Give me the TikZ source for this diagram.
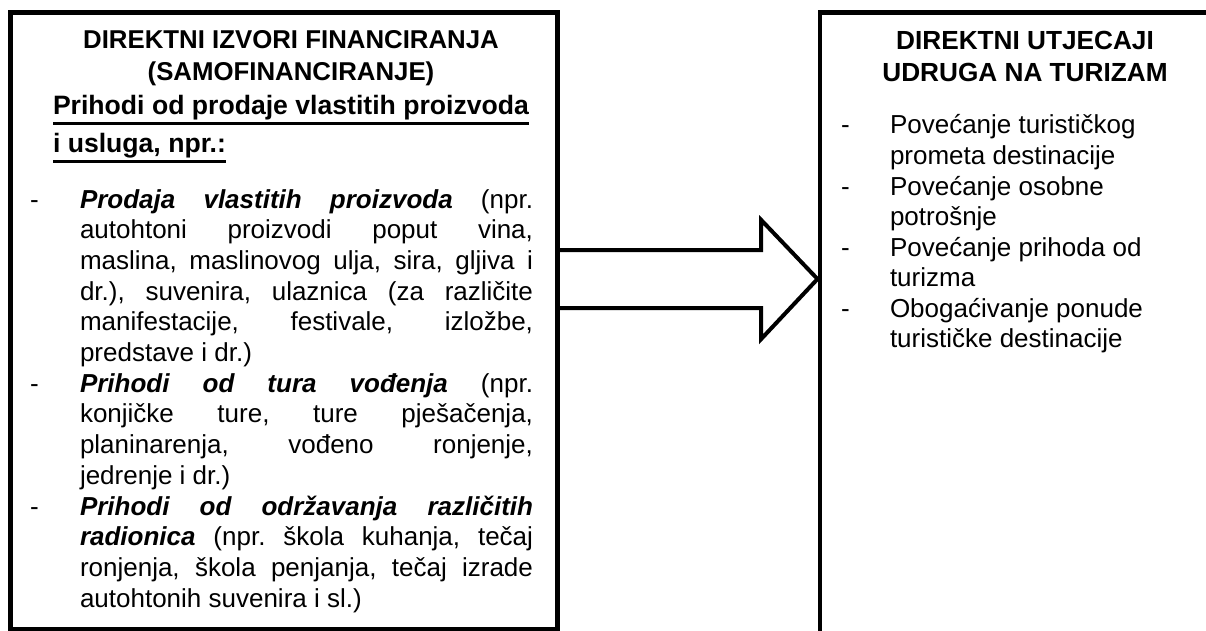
\documentclass[tikz,border=0pt]{standalone}
\usepackage{fontspec}
\setmainfont{Liberation Sans}
\usetikzlibrary{calc}
\newcommand\myul[1]{\setbox0\hbox{#1}\rlap{\rule[-10pt]{\wd0}{2.6pt}}\box0}
\newcommand\bfit[1]{\textbf{\textit{#1}}}
\newcommand\jline[1]{\makebox[453pt][s]{#1}}
\begin{document}
\begin{tikzpicture}[x=1pt,y=-1pt,
  boxline/.style={draw=black,line width=4.5pt,inner sep=0pt,outer sep=0pt,fill=none},
  arrowline/.style={draw=black,line width=4pt,line join=miter,miter limit=10},
  ttl/.style={anchor=base,inner sep=0pt,outer sep=0pt,font=\fontsize{25.8}{30}\selectfont\bfseries\frenchspacing},
  rttl/.style={ttl,font=\fontsize{26.2}{30}\selectfont\bfseries\frenchspacing},
  sub/.style={anchor=base west,inner sep=0pt,outer sep=0pt,font=\fontsize{26.6}{30}\selectfont\bfseries\frenchspacing},
  txt/.style={anchor=base west,inner sep=0pt,outer sep=0pt,font=\fontsize{26}{30}\selectfont\frenchspacing},
]
\useasboundingbox (0,0) rectangle (1206,631);
\fill[white] (0,0) rectangle (1206,631);
\clip (0,0) rectangle (1206,631);

% boxes
\node[boxline,anchor=north west,minimum width=547pt,minimum height=616.5pt] (L) at (10.5,12.5) {};
\node[boxline,anchor=north west,minimum width=420pt,minimum height=660pt] (R) at (820,12.5) {};

% arrow connector
\coordinate (ty) at (0,279);
\coordinate (tip) at ($(R.west |- ty)+(-2.5,0)$);
\draw[arrowline] ($(L.east |- ty)+(0,-29)$) -- ($(tip)+(-56.3,-29)$) -- ($(tip)+(-56.3,-59)$)
  -- (tip) -- ($(tip)+(-56.3,60)$) -- ($(tip)+(-56.3,29)$) -- ($(L.east |- ty)+(0,29)$);

% left box texts
\node[ttl] (lt1) at (291,48.3) {DIREKTNI IZVORI FINANCIRANJA};
\node[ttl] (lt2) at (291,80.5) {(SAMOFINANCIRANJE)};
\node[sub] (ls1) at (53,115) {\myul{Prihodi od prodaje vlastitih proizvoda}};
\node[sub] (ls2) at (53,153) {\myul{i usluga, npr.:}};

\node[txt] (ld1) at (30,208.0) {-};
\node[txt] (ld2) at (30,392.2) {-};
\node[txt] (ld3) at (30,515.0) {-};

\node[txt] (l01) at (80,208.0) {\jline{\bfit{Prodaja vlastitih proizvoda} (npr.}};
\node[txt] (l02) at (80,238.7) {\jline{autohtoni proizvodi poput vina,}};
\node[txt] (l03) at (80,269.4) {\jline{maslina, maslinovog ulja, sira, gljiva i}};
\node[txt] (l04) at (80,300.1) {\jline{dr.), suvenira, ulaznica (za različite}};
\node[txt] (l05) at (80,330.8) {\jline{manifestacije, festivale, izložbe,}};
\node[txt] (l06) at (80,361.5) {predstave i dr.)};
\node[txt] (l07) at (80,392.2) {\jline{\bfit{Prihodi od tura vođenja} (npr.}};
\node[txt] (l08) at (80,422.9) {\jline{konjičke ture, ture pješačenja,}};
\node[txt] (l09) at (80,453.6) {\jline{planinarenja, vođeno ronjenje,}};
\node[txt] (l10) at (80,484.3) {jedrenje i dr.)};
\node[txt] (l11) at (80,515.0) {\jline{\bfit{Prihodi od održavanja različitih}}};
\node[txt] (l12) at (80,545.7) {\jline{\bfit{radionica} (npr. škola kuhanja, tečaj}};
\node[txt] (l13) at (80,576.4) {\jline{ronjenja, škola penjanja, tečaj izrade}};
\node[txt] (l14) at (80,607.1) {autohtonih suvenira i sl.)};

% right box texts
\node[rttl] (rt1) at (1025,50) {DIREKTNI UTJECAJI};
\node[rttl] (rt2) at (1025,82) {UDRUGA NA TURIZAM};

\node[txt] (rd1) at (841,134.0) {-};
\node[txt] (rd2) at (841,195.0) {-};
\node[txt] (rd3) at (841,256.0) {-};
\node[txt] (rd4) at (841,317.0) {-};

\node[txt] (r1) at (890,134.0) {Povećanje turističkog};
\node[txt] (r2) at (890,164.5) {prometa destinacije};
\node[txt] (r3) at (890,195.0) {Povećanje osobne};
\node[txt] (r4) at (890,225.5) {potrošnje};
\node[txt] (r5) at (890,256.0) {Povećanje prihoda od};
\node[txt] (r6) at (890,286.5) {turizma};
\node[txt] (r7) at (890,317.0) {Obogaćivanje ponude};
\node[txt] (r8) at (890,347.5) {turističke destinacije};
\end{tikzpicture}
\end{document}
